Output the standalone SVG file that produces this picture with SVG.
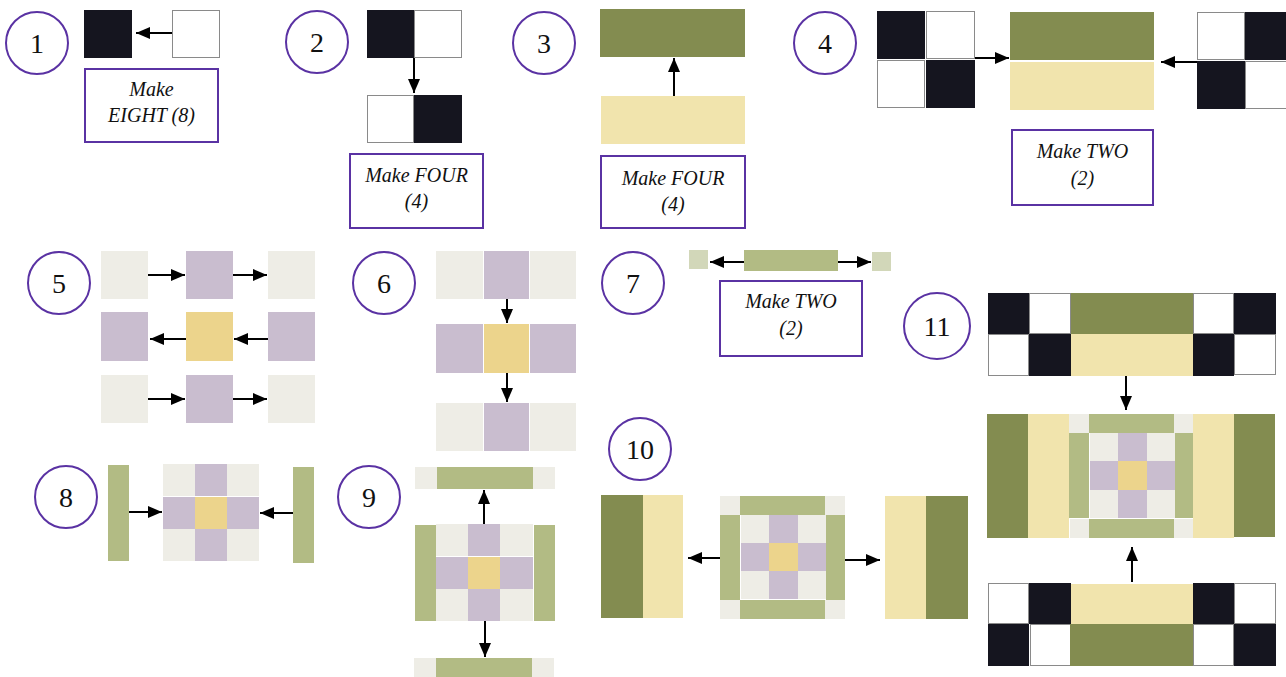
<svg xmlns="http://www.w3.org/2000/svg" width="1286" height="677" viewBox="0 0 1286 677">
<style>
.num{fill:none;stroke:#5a32a3;stroke-width:2}
.box{fill:#fff;stroke:#5a32a3;stroke-width:2}
.k{fill:#15151f}
.w{fill:#fff;stroke:#8a8a8a;stroke-width:1}
.o{fill:#838c50}
.c{fill:#f1e4ad}
.g{fill:#b2bb84}
.l{fill:#eeede6}
.p{fill:#c9bdcf}
.y{fill:#ecd48c}
.s{fill:#d2d7b9}
.cn line{stroke:#000;stroke-width:2;marker-end:url(#ah)}
</style>
<defs>
<marker id="ah" markerWidth="14" markerHeight="12" refX="14" refY="6" orient="auto" markerUnits="userSpaceOnUse"><path d="M0,0 L14,6 L0,12 z" fill="#000"/></marker>
</defs>
<rect width="1286" height="677" fill="#fff"/>

<g id="step1">
<circle class="num" cx="37" cy="43" r="31"/><text x="37" y="53" style="font-family:'Liberation Serif',serif !important;font-size:28px;fill:#111;text-anchor:middle">1</text>
<rect class="k" x="84" y="10" width="48" height="48"/>
<rect class="w" x="172.5" y="10.5" width="47" height="47"/>
<rect class="box" x="85" y="69" width="133" height="73"/>
<text x="151.5" y="96" style="font-family:'Liberation Serif',serif !important;font-style:italic;font-size:20px;fill:#111;text-anchor:middle">Make</text>
<text x="151.5" y="122" style="font-family:'Liberation Serif',serif !important;font-style:italic;font-size:20px;fill:#111;text-anchor:middle">EIGHT (8)</text>
</g>

<g id="step2">
<circle class="num" cx="317" cy="42" r="31"/><text x="317" y="52" style="font-family:'Liberation Serif',serif !important;font-size:28px;fill:#111;text-anchor:middle">2</text>
<rect class="k" x="367" y="10" width="47" height="48"/>
<rect class="w" x="414.5" y="10.5" width="47" height="47"/>
<rect class="w" x="367.5" y="95.5" width="46" height="47"/>
<rect class="k" x="414" y="95" width="48" height="48"/>
<rect class="box" x="350" y="154" width="133" height="74"/>
<text x="416.5" y="182" style="font-family:'Liberation Serif',serif !important;font-style:italic;font-size:20px;fill:#111;text-anchor:middle">Make FOUR</text>
<text x="416.5" y="208" style="font-family:'Liberation Serif',serif !important;font-style:italic;font-size:20px;fill:#111;text-anchor:middle">(4)</text>
</g>

<g id="step3">
<circle class="num" cx="544" cy="43" r="31"/><text x="544" y="53" style="font-family:'Liberation Serif',serif !important;font-size:28px;fill:#111;text-anchor:middle">3</text>
<rect class="o" x="600" y="9" width="145" height="48"/>
<rect class="c" x="601" y="96" width="144" height="48"/>
<rect class="box" x="601" y="156" width="144" height="72"/>
<text x="673" y="185" style="font-family:'Liberation Serif',serif !important;font-style:italic;font-size:20px;fill:#111;text-anchor:middle">Make FOUR</text>
<text x="673" y="211" style="font-family:'Liberation Serif',serif !important;font-style:italic;font-size:20px;fill:#111;text-anchor:middle">(4)</text>
</g>

<g id="step4">
<circle class="num" cx="825" cy="43" r="31"/><text x="825" y="53" style="font-family:'Liberation Serif',serif !important;font-size:28px;fill:#111;text-anchor:middle">4</text>
<rect class="k" x="877" y="11" width="48" height="48"/>
<rect class="w" x="926.5" y="11.5" width="48" height="47"/>
<rect class="w" x="877.5" y="60.5" width="47" height="47"/>
<rect class="k" x="926" y="60" width="49" height="48"/>
<rect class="o" x="1010" y="12" width="144" height="48"/>
<rect class="c" x="1010" y="62" width="144" height="48"/>
<rect class="w" x="1197.5" y="12.5" width="47" height="47"/>
<rect class="k" x="1245" y="12" width="48" height="48"/>
<rect class="k" x="1197" y="61" width="48" height="48"/>
<rect class="w" x="1245.5" y="61.5" width="47" height="47"/>
<rect class="box" x="1012" y="130" width="141" height="75"/>
<text x="1082.5" y="158" style="font-family:'Liberation Serif',serif !important;font-style:italic;font-size:20px;fill:#111;text-anchor:middle">Make TWO</text>
<text x="1082.5" y="185" style="font-family:'Liberation Serif',serif !important;font-style:italic;font-size:20px;fill:#111;text-anchor:middle">(2)</text>
</g>

<g id="step5">
<circle class="num" cx="59" cy="283" r="31"/><text x="59" y="293" style="font-family:'Liberation Serif',serif !important;font-size:28px;fill:#111;text-anchor:middle">5</text>
<rect class="l" x="101" y="251" width="47" height="48"/>
<rect class="p" x="186" y="251" width="47" height="48"/>
<rect class="l" x="268" y="251" width="47" height="48"/>
<rect class="p" x="101" y="312" width="47" height="49"/>
<rect class="y" x="186" y="312" width="47" height="49"/>
<rect class="p" x="268" y="312" width="47" height="49"/>
<rect class="l" x="101" y="375" width="47" height="48"/>
<rect class="p" x="186" y="375" width="47" height="48"/>
<rect class="l" x="268" y="375" width="47" height="48"/>
</g>

<g id="step6">
<circle class="num" cx="384" cy="283" r="31"/><text x="384" y="293" style="font-family:'Liberation Serif',serif !important;font-size:28px;fill:#111;text-anchor:middle">6</text>
<rect class="l" x="436" y="251" width="47" height="48"/>
<rect class="p" x="484" y="251" width="45" height="48"/>
<rect class="l" x="530" y="251" width="46" height="48"/>
<rect class="p" x="436" y="324" width="47" height="49"/>
<rect class="y" x="484" y="324" width="45" height="49"/>
<rect class="p" x="530" y="324" width="46" height="49"/>
<rect class="l" x="436" y="403" width="47" height="48"/>
<rect class="p" x="484" y="403" width="45" height="48"/>
<rect class="l" x="530" y="403" width="46" height="48"/>
</g>

<g id="step7">
<circle class="num" cx="633" cy="283" r="31"/><text x="633" y="293" style="font-family:'Liberation Serif',serif !important;font-size:28px;fill:#111;text-anchor:middle">7</text>
<rect class="s" x="689" y="250" width="19" height="19"/>
<rect class="g" x="744" y="250" width="94" height="21"/>
<rect class="s" x="872" y="252" width="19" height="19"/>
<rect class="box" x="720" y="281" width="142" height="75"/>
<text x="791" y="308" style="font-family:'Liberation Serif',serif !important;font-style:italic;font-size:20px;fill:#111;text-anchor:middle">Make TWO</text>
<text x="791" y="335" style="font-family:'Liberation Serif',serif !important;font-style:italic;font-size:20px;fill:#111;text-anchor:middle">(2)</text>
</g>

<g id="step8">
<circle class="num" cx="66" cy="497" r="31"/><text x="66" y="507" style="font-family:'Liberation Serif',serif !important;font-size:28px;fill:#111;text-anchor:middle">8</text>
<rect class="g" x="108" y="465" width="21" height="96"/>
<rect class="l" x="163" y="464" width="32" height="32"/>
<rect class="p" x="195" y="464" width="32" height="32"/>
<rect class="l" x="227" y="464" width="32" height="32"/>
<rect class="p" x="163" y="497" width="32" height="32"/>
<rect class="y" x="195" y="497" width="32" height="32"/>
<rect class="p" x="227" y="497" width="32" height="32"/>
<rect class="l" x="163" y="529" width="32" height="32"/>
<rect class="p" x="195" y="529" width="32" height="32"/>
<rect class="l" x="227" y="529" width="32" height="32"/>
<rect class="g" x="293" y="467" width="21" height="96"/>
</g>

<g id="step9">
<circle class="num" cx="369" cy="497" r="31"/><text x="369" y="507" style="font-family:'Liberation Serif',serif !important;font-size:28px;fill:#111;text-anchor:middle">9</text>
<rect class="l" x="415" y="467" width="22" height="22"/>
<rect class="g" x="437" y="467" width="96" height="22"/>
<rect class="l" x="533" y="467" width="22" height="22"/>
<rect class="g" x="415" y="525" width="21" height="96"/>
<rect class="l" x="436" y="524" width="32" height="32"/>
<rect class="p" x="468" y="524" width="32" height="32"/>
<rect class="l" x="500" y="524" width="33" height="32"/>
<rect class="p" x="436" y="557" width="32" height="32"/>
<rect class="y" x="468" y="557" width="32" height="32"/>
<rect class="p" x="500" y="557" width="33" height="32"/>
<rect class="l" x="436" y="589" width="32" height="32"/>
<rect class="p" x="468" y="589" width="32" height="32"/>
<rect class="l" x="500" y="589" width="33" height="32"/>
<rect class="g" x="534" y="525" width="21" height="96"/>
<rect class="l" x="414" y="658" width="22" height="22"/>
<rect class="g" x="436" y="658" width="96" height="22"/>
<rect class="l" x="532" y="658" width="22" height="22"/>
</g>

<g id="step10">
<circle class="num" cx="640" cy="449" r="31"/><text x="640" y="459" style="font-family:'Liberation Serif',serif !important;font-size:28px;fill:#111;text-anchor:middle">10</text>
<rect class="o" x="601" y="495" width="42" height="123"/>
<rect class="c" x="643" y="495" width="40" height="123"/>
<rect class="l" x="720" y="496" width="20" height="19"/>
<rect class="g" x="740" y="496" width="85" height="19"/>
<rect class="l" x="825" y="496" width="20" height="19"/>
<rect class="g" x="720" y="515" width="20" height="85"/>
<rect class="g" x="826" y="515" width="19" height="85"/>
<rect class="l" x="741" y="515" width="28" height="28"/>
<rect class="p" x="769" y="515" width="29" height="28"/>
<rect class="l" x="798" y="515" width="28" height="28"/>
<rect class="p" x="741" y="543" width="28" height="28"/>
<rect class="y" x="769" y="543" width="29" height="28"/>
<rect class="p" x="798" y="543" width="28" height="28"/>
<rect class="l" x="741" y="571" width="28" height="28"/>
<rect class="p" x="769" y="571" width="29" height="28"/>
<rect class="l" x="798" y="571" width="28" height="28"/>
<rect class="l" x="720" y="600" width="20" height="19"/>
<rect class="g" x="740" y="600" width="85" height="19"/>
<rect class="l" x="825" y="600" width="20" height="19"/>
<rect class="c" x="885" y="496" width="41" height="123"/>
<rect class="o" x="926" y="496" width="42" height="123"/>
</g>

<g id="step11">
<circle class="num" cx="937" cy="326" r="33"/><text x="937" y="336" style="font-family:'Liberation Serif',serif !important;font-size:28px;fill:#111;text-anchor:middle">11</text>
<rect class="k" x="988" y="293" width="41" height="41"/>
<rect class="w" x="1029.5" y="293.5" width="41" height="40"/>
<rect class="o" x="1071" y="293" width="122" height="41"/>
<rect class="w" x="1193.5" y="293.5" width="40" height="40"/>
<rect class="k" x="1234" y="293" width="42" height="41"/>
<rect class="w" x="988.5" y="334.5" width="40" height="41"/>
<rect class="k" x="1029" y="334" width="42" height="42"/>
<rect class="c" x="1071" y="334" width="122" height="42"/>
<rect class="k" x="1193" y="334" width="41" height="42"/>
<rect class="w" x="1234.5" y="334.5" width="41" height="40"/>
<rect class="o" x="987" y="414" width="41" height="124"/>
<rect class="c" x="1028" y="414" width="41" height="124"/>
<rect class="l" x="1069" y="414" width="20" height="19"/>
<rect class="g" x="1089" y="414" width="85" height="19"/>
<rect class="l" x="1174" y="414" width="19" height="19"/>
<rect class="g" x="1069" y="433" width="20" height="85"/>
<rect class="g" x="1175" y="433" width="18" height="85"/>
<rect class="l" x="1090" y="433" width="28" height="28"/>
<rect class="p" x="1118" y="433" width="29" height="28"/>
<rect class="l" x="1147" y="433" width="28" height="28"/>
<rect class="p" x="1090" y="461" width="28" height="29"/>
<rect class="y" x="1118" y="461" width="29" height="29"/>
<rect class="p" x="1147" y="461" width="28" height="29"/>
<rect class="l" x="1090" y="490" width="28" height="28"/>
<rect class="p" x="1118" y="490" width="29" height="28"/>
<rect class="l" x="1147" y="490" width="28" height="28"/>
<rect class="l" x="1070" y="519" width="19" height="19"/>
<rect class="g" x="1089" y="519" width="85" height="19"/>
<rect class="l" x="1174" y="519" width="19" height="19"/>
<rect class="c" x="1193" y="414" width="41" height="124"/>
<rect class="o" x="1234" y="414" width="41" height="123"/>
<rect class="w" x="988.5" y="583.5" width="40" height="40"/>
<rect class="k" x="1029" y="583" width="42" height="41"/>
<rect class="c" x="1071" y="584" width="122" height="40"/>
<rect class="k" x="1193" y="583" width="41" height="41"/>
<rect class="w" x="1234.5" y="583.5" width="41" height="40"/>
<rect class="k" x="988" y="624" width="41" height="42"/>
<rect class="w" x="1030.5" y="624.5" width="40" height="41"/>
<rect class="o" x="1070" y="624" width="123" height="42"/>
<rect class="w" x="1193.5" y="624.5" width="40" height="41"/>
<rect class="k" x="1234" y="624" width="42" height="42"/>
</g>

<g id="connectors" class="cn">
<line x1="172" y1="33" x2="136" y2="33"/>
<line x1="414" y1="58" x2="414" y2="93"/>
<line x1="674" y1="96" x2="674" y2="58"/>
<line x1="975" y1="58" x2="1009" y2="58"/>
<line x1="1197" y1="62" x2="1161" y2="62"/>
<line x1="148" y1="275" x2="185" y2="275"/>
<line x1="233" y1="275" x2="267" y2="275"/>
<line x1="186" y1="339" x2="150" y2="339"/>
<line x1="268" y1="339" x2="234" y2="339"/>
<line x1="148" y1="399" x2="185" y2="399"/>
<line x1="233" y1="399" x2="267" y2="399"/>
<line x1="507" y1="299" x2="507" y2="323"/>
<line x1="507" y1="373" x2="507" y2="402"/>
<line x1="744" y1="262" x2="710" y2="262"/>
<line x1="838" y1="262" x2="871" y2="262"/>
<line x1="129" y1="512" x2="162" y2="512"/>
<line x1="293" y1="513" x2="260" y2="513"/>
<line x1="484" y1="524" x2="484" y2="490"/>
<line x1="485" y1="621" x2="485" y2="657"/>
<line x1="720" y1="558" x2="688" y2="558"/>
<line x1="845" y1="560" x2="880" y2="560"/>
<line x1="1126" y1="376" x2="1126" y2="410"/>
<line x1="1132" y1="582" x2="1132" y2="547"/>
</g>
</svg>
